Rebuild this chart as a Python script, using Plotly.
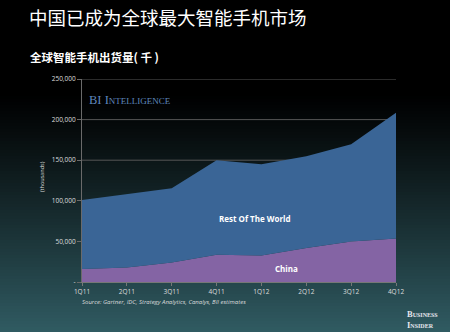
import plotly.graph_objects as go

# Quarterly smartphone shipments (thousands)
quarters = ["1Q11", "2Q11", "3Q11", "4Q11", "1Q12", "2Q12", "3Q12", "4Q12"]
china = [16000, 17800, 24000, 33500, 32500, 42000, 50000, 53500]
rest_of_world = [85000, 90200, 91500, 116500, 112500, 113000, 119500, 155000]

y_tickvals = [0, 50000, 100000, 150000, 200000, 250000]
y_ticktext = ["-", "50,000", "100,000", "150,000", "200,000", "250,000"]

W, H = 450, 332
L, R, T, B = 82, 54, 79, 50
pw, ph = W - L - R, H - T - B

x_idx = list(range(len(quarters)))

fig = go.Figure()
fig.add_trace(go.Scatter(
    x=x_idx, y=china, stackgroup="s", mode="lines",
    line=dict(width=0, color="#8464a4"), fillcolor="#8464a4",
    name="China", hoverinfo="skip"))
fig.add_trace(go.Scatter(
    x=x_idx, y=rest_of_world, stackgroup="s", mode="lines",
    line=dict(width=0, color="#3a6596"), fillcolor="#3a6596",
    name="Rest Of The World", hoverinfo="skip"))


def px_x(px):
    return (px - L) / pw


def px_y(py):
    return (H - B - py) / ph


# vertical background gradient: black at top fading into dark teal
shapes = []
end = (48, 91, 98)
step = 3
for y0 in range(0, H, step):
    yc = y0 + step / 2
    t = max(0.0, min(1.0, (yc - 95) / (H - 95)))
    t = t ** 1.1
    c = tuple(int(round(v * t)) for v in end)
    shapes.append(dict(
        type="rect", xref="paper", yref="paper", layer="below",
        x0=px_x(0), x1=px_x(W), y0=px_y(y0 + step + 0.5), y1=px_y(y0),
        line=dict(width=0), fillcolor="rgb(%d,%d,%d)" % c))

# horizontal gridlines sitting underneath the area fills
for v in y_tickvals[1:]:
    shapes.append(dict(
        type="line", xref="paper", yref="y", layer="between",
        x0=0, x1=1, y0=v, y1=v,
        line=dict(color="#565656", width=1)))

annotations = [
    dict(text="中国已成为全球最大智能手机市场", xref="paper", yref="paper",
         x=px_x(27), y=px_y(17.5), xanchor="left", yanchor="middle",
         showarrow=False,
         font=dict(family="Noto Sans CJK SC", size=18.5, color="#ffffff")),
    dict(text="全球智能手机出货量( 千 )", xref="paper", yref="paper",
         x=px_x(28), y=px_y(56.5), xanchor="left", yanchor="middle",
         showarrow=False,
         font=dict(family="Noto Sans CJK SC", size=11.5, color="#ffffff", weight="bold")),
    dict(text="BI Intelligence", xref="paper", yref="paper",
         x=px_x(87), y=px_y(99.5), xanchor="left", yanchor="middle",
         showarrow=False,
         font=dict(family="Liberation Serif", size=12.5, color="#5f87bd",
                   variant="small-caps")),
    dict(text="Rest Of The World", x=3.855, y=78000, xanchor="center",
         yanchor="middle", showarrow=False,
         font=dict(family="Open Sans", size=8, color="#ffffff", weight="bold")),
    dict(text="China", x=4.56, y=16800, xanchor="center", yanchor="middle",
         showarrow=False,
         font=dict(family="Open Sans", size=8, color="#ffffff", weight="bold")),
    dict(text="(thousands)", xref="paper", yref="paper",
         x=px_x(42), y=px_y(177), xanchor="center", yanchor="middle",
         textangle=-90, showarrow=False,
         font=dict(family="Open Sans", size=5.5, color="#dddddd")),
    dict(text="Source: Gartner, IDC, Strategy Analytics, Canalys, BII estimates",
         xref="paper", yref="paper", x=px_x(80), y=px_y(302),
         xanchor="left", yanchor="middle", showarrow=False,
         font=dict(family="Open Sans", size=6, color="#dddddd", style="italic")),
    dict(text="Business<br>Insider", xref="paper", yref="paper",
         x=px_x(405), y=px_y(319.5), xanchor="left", yanchor="middle",
         align="left", showarrow=False,
         font=dict(family="Liberation Serif", size=8.5, color="#e6e6ee",
                   weight="bold", variant="small-caps")),
]

fig.update_layout(
    width=W, height=H,
    margin=dict(l=L, r=R, t=T, b=B, pad=0),
    paper_bgcolor="#000000",
    plot_bgcolor="rgba(0,0,0,0)",
    showlegend=False,
    shapes=shapes,
    annotations=annotations,
    xaxis=dict(
        range=[0, 7], tickvals=x_idx, ticktext=quarters,
        showgrid=False, zeroline=False,
        showline=True, linecolor="#777777", linewidth=1,
        ticks="outside", ticklen=3, tickcolor="#777777",
        tickfont=dict(family="Open Sans", size=6.5, color="#dddddd"),
    ),
    yaxis=dict(
        range=[0, 250000], tickvals=y_tickvals, ticktext=y_ticktext,
        showgrid=False, zeroline=False,
        showline=True, linecolor="#6a6a6a", linewidth=1,
        ticks="outside", ticklen=4, tickcolor="#6a6a6a",
        tickfont=dict(family="Open Sans", size=6.5, color="#dddddd"),
    ),
)

fig.write_html("out.html")
